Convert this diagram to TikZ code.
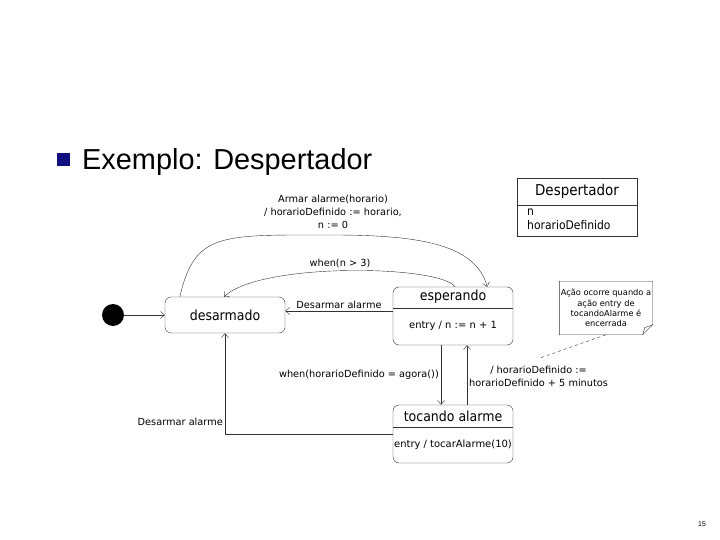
\documentclass[tikz,border=0pt]{standalone}
\usepackage{fontspec}
\setmainfont{Liberation Sans}
\newfontfamily\umlfont{DejaVu Sans}
\newfontfamily\umlcond{DejaVu Sans Condensed}
\usetikzlibrary{arrows.meta,positioning}
\definecolor{bulletblue}{RGB}{16,16,128}
\definecolor{linegray}{RGB}{50,50,50}

\begin{document}
\begin{tikzpicture}
  [
    x=1bp, y=-1bp,
    state/.style={draw=linegray, rounded corners=6bp, minimum width=120bp, inner sep=0pt},
    statename/.style={font=\umlcond\fontsize{14}{16}\selectfont, inner sep=0pt},
    entrytext/.style={font=\umlfont\fontsize{10}{12}\selectfont, inner sep=0pt},
    lbl/.style={font=\umlfont\fontsize{9.8}{13.3}\selectfont, align=center, inner sep=2bp},
    trans/.style={draw=linegray, -{Straight Barb[length=4bp,width=7bp]}},
  ]
    \useasboundingbox (0,0) rectangle (720,540);

    % title
    \fill [bulletblue] (57,153) rectangle (70,166);
    \node [anchor=base west, inner sep=0pt, font=\fontsize{29}{35}\selectfont] (title) at (82,170) {Exemplo: Despertador};

    % class
    \node [draw=linegray, minimum width=120bp, minimum height=58bp, inner sep=0pt] (cls) at (577,207) {};
    \draw [linegray] (517,205) -- (637,205);
    \node [font=\umlcond\fontsize{15}{17}\selectfont, inner sep=0pt] (clsname) at (577,191) {Despertador};
    \node [font=\umlcond\fontsize{12}{14}\selectfont, align=left, anchor=north west, inner sep=0pt] (clsattr) at (527,209) {n\\horarioDefinido};

    % states
    \fill (113,315) circle (11);
    \coordinate (init) at (124,315);
    \node [state, minimum height=36bp] (desarmado) at (225,315) {};
    \node [statename] (desarmadoname) at (225,315) {desarmado};

    \node [state, minimum height=58bp] (esperando) at (453,316) {};
    \draw [linegray] (393,308) -- (513,308);
    \node [statename] (esperandoname) at (453,297) {esperando};
    \node [entrytext] (esperandoentry) at (453,326) {entry / n := n + 1};

    \node [state, minimum height=58bp] (tocando) at (453,434) {};
    \draw [linegray] (393,427) -- (513,427);
    \node [statename] (tocandoname) at (453,416) {tocando alarme};
    \node [entrytext] (tocandoentry) at (453,445) {entry / tocarAlarme(10)};

    % transitions
    \draw [trans] (init) -- (desarmado);
    \coordinate (armartop) at (333,235);
    \draw [trans] ([xshift=15bp]desarmado.north west) .. controls (195,232) and (220,235) .. (armartop)
      .. controls (425,235) and (476,246) .. ([xshift=-26bp]esperando.north east);
    \node [lbl] (armarlbl) at (333,212) {Armar alarme(horario)\\/ horarioDefinido := horario,\\n := 0};
    \draw [trans] ([xshift=2bp]esperando.north) .. controls (440,265) and (260,262) .. ([xshift=-1bp]desarmado.north);
    \node [lbl] (whenlbl) at (340,263) {when(n > 3)};
    \draw [trans] ([yshift=5bp]esperando.west) -- ([yshift=5bp]esperando.west -| desarmado.east)
      node [midway, above, lbl] (desarmarlbl) {Desarmar alarme};
    \draw [trans] ([xshift=-12bp]esperando.south) -- ([xshift=-12bp]tocando.north)
      node [midway, left, lbl] (agoralbl) {when(horarioDefinido = agora())};
    \draw [trans] ([xshift=14bp]tocando.north) -- ([xshift=14bp]esperando.south)
      node [midway, right, lbl, yshift=-1bp] (adiarlbl) {/ horarioDefinido :=\\horarioDefinido + 5 minutos};
    \draw [trans] (tocando.west) -| (desarmado.south)
      node [pos=0.56, left, lbl] (desarmar2lbl) {Desarmar alarme};

    % note
    \node [minimum width=93bp, minimum height=53bp, inner sep=0pt, align=center,
      font=\umlfont\fontsize{8.3}{10.3}\selectfont] (note) at (606,308)
      {Ação ocorre quando a\\ação entry de\\tocandoAlarme é\\encerrada};
    \draw [linegray] (note.north west) -- (note.north east) -- ([yshift=10bp]note.south east)
      -- ([xshift=-10bp]note.south east) -- (note.south west) -- cycle;
    \draw [linegray] ([xshift=-10bp]note.south east) -- ([xshift=-8bp,yshift=7bp]note.south east)
      -- ([yshift=10bp]note.south east);
    \coordinate (notetarget) at (540,358);
    \draw [linegray, dashed] (note.south) -- (notetarget);

    % page number
    \node [font=\fontsize{7}{8}\selectfont, inner sep=0pt] (page) at (702,524) {15};
  \end{tikzpicture}
\end{document}
